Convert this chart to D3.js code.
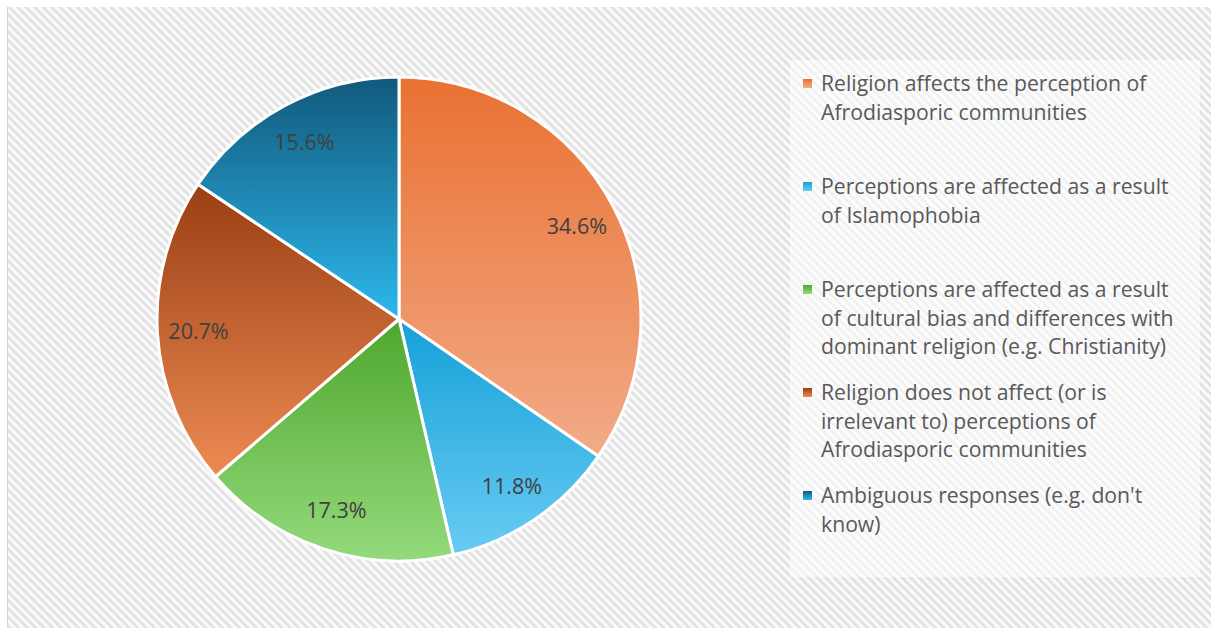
<!DOCTYPE html>
<html><head><meta charset="utf-8">
<script src="https://cdn.jsdelivr.net/npm/d3@7"></script>
<style>html,body{margin:0;padding:0;background:#fff;}svg{display:block;}</style>
</head><body>
<svg id="chart" width="1211" height="628"></svg>
<script>
const categories = [
  "Religion affects the perception of Afrodiasporic communities",
  "Perceptions are affected as a result of Islamophobia",
  "Perceptions are affected as a result of cultural bias and differences with dominant religion (e.g. Christianity)",
  "Religion does not affect (or is irrelevant to) perceptions of Afrodiasporic communities",
  "Ambiguous responses (e.g. don't know)"
];
const legendLines = [
  ["Religion affects the perception of", "Afrodiasporic communities"],
  ["Perceptions are affected as a result", "of Islamophobia"],
  ["Perceptions are affected as a result", "of cultural bias and differences with", "dominant religion (e.g. Christianity)"],
  ["Religion does not affect (or is", "irrelevant to) perceptions of", "Afrodiasporic communities"],
  ["Ambiguous responses (e.g. don't", "know)"]
];
const values = [34.6, 11.8, 17.3, 20.7, 15.6];
const colorTop = ["#e97132", "#16a0d8", "#4ea72e", "#9a3f14", "#12597c"];
const colorBottom = ["#f2ab88", "#68ccf3", "#94da7c", "#ec8a52", "#2cb8ec"];

const svg = d3.select("#chart");
const W = 1211, H = 628;
const defs = svg.append("defs");

// hatch background
const pat = defs.append("pattern").attr("id", "hatch")
  .attr("patternUnits", "userSpaceOnUse").attr("width", 6).attr("height", 6)
  .attr("patternTransform", "rotate(-45)");
pat.append("rect").attr("width", 6).attr("height", 6).attr("fill", "#fafafa");
pat.append("rect").attr("width", 2.8).attr("height", 6).attr("fill", "#e1e1e1");

svg.append("rect").attr("x", 0).attr("y", 0).attr("width", W).attr("height", H).attr("fill", "#fff");
svg.append("rect").attr("x", 8).attr("y", 7).attr("width", W - 8).attr("height", H - 7).attr("fill", "url(#hatch)");
svg.append("line").attr("x1", 7.5).attr("x2", 7.5).attr("y1", 7).attr("y2", H).attr("stroke", "#d6d6d6").attr("stroke-width", 1);

// gradients
values.forEach((v, i) => {
  const g = defs.append("linearGradient").attr("id", "grad" + i)
    .attr("x1", 0).attr("y1", 0).attr("x2", 0).attr("y2", 1);
  g.append("stop").attr("offset", "0%").attr("stop-color", colorTop[i]);
  g.append("stop").attr("offset", "100%").attr("stop-color", colorBottom[i]);
});

const cx = 399, cy = 319, R = 242;
const pie = d3.pie().sort(null).value(d => d)(values);
const arc = d3.arc().innerRadius(0).outerRadius(R);
const labelArc = d3.arc().innerRadius(R * 0.83).outerRadius(R * 0.83);

const gp = svg.append("g").attr("transform", `translate(${cx},${cy})`);
gp.selectAll("path").data(pie).join("path")
  .attr("d", arc)
  .attr("fill", (d, i) => `url(#grad${i})`)
  .attr("stroke", "#fff").attr("stroke-width", 3).attr("stroke-linejoin", "round");

gp.selectAll("text").data(pie).join("text")
  .attr("transform", d => `translate(${labelArc.centroid(d)})`)
  .attr("text-anchor", "middle").attr("dominant-baseline", "central")
  .attr("font-family", "'Open Sans', sans-serif").attr("font-size", 21.5)
  .attr("fill", "#404040")
  .text(d => d.data.toFixed(1) + "%");

// legend
svg.append("rect").attr("x", 790).attr("y", 60).attr("width", 410).attr("height", 517)
  .attr("fill", "#fff").attr("fill-opacity", 0.55);

const legY = d3.scaleBand().domain(d3.range(categories.length)).range([64, 579]);
const lg = svg.append("g");
const items = lg.selectAll("g").data(categories).join("g")
  .attr("transform", (d, i) => `translate(803,${legY(i)})`);
items.append("rect").attr("x", 0).attr("y", 15).attr("width", 9).attr("height", 9)
  .attr("fill", (d, i) => `url(#grad${i})`);
items.append("text")
  .attr("font-family", "'Open Sans', sans-serif").attr("font-size", 21.2)
  .attr("fill", "#595959")
  .selectAll("tspan").data((d, i) => legendLines[i]).join("tspan")
  .attr("x", 18).attr("y", (d, j) => 27 + j * 28.5)
  .text(d => d);
</script>
</body></html>
